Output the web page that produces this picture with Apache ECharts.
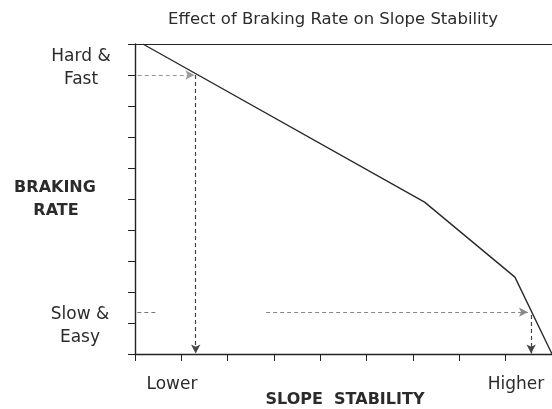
<!DOCTYPE html>
<html>
<head>
<meta charset="utf-8">
<script src="https://cdn.jsdelivr.net/npm/echarts@6/dist/echarts.min.js"></script>
<style>
html,body{margin:0;padding:0;background:#fff;}
#chart{width:552px;height:409px;}
</style>
</head>
<body>
<div id="chart"></div>
<script>
// braking rate (0 = slow & easy, 10 = hard & fast) vs slope stability (0 lower .. 9 higher)
var curve = [[0.17, 10], [6.25, 4.9], [8.2, 2.48], [9.0, 0]];
var hardAcross = [[0.06, 9.0], [1.28, 9.0]];
var hardDown = [[1.31, 9.0], [1.31, 0.02]];
var slowStub = [[0.05, 1.35], [0.47, 1.35]];
var slowAcross = [[2.83, 1.35], [8.48, 1.35]];
var slowDown = [[8.55, 1.26], [8.55, 0.02]];
var xLabels = ['Lower', 'Higher'];
var yLabels = [['Hard &', 'Fast'], ['BRAKING', 'RATE'], ['Slow &', 'Easy']];

var chart = echarts.init(document.getElementById('chart'));
var font = 'DejaVu Sans';

function arrowLine(pts, color, arrow) {
    return {
        type: 'line',
        data: [],
        silent: true,
        markLine: {
            silent: true,
            animation: false,
            symbol: ['none', arrow ? 'arrow' : 'none'],
            symbolSize: [7, 9],
            label: {show: false},
            lineStyle: {color: color, type: [4, 3], width: 1.2},
            data: [[{coord: pts[0]}, {coord: pts[1]}]]
        }
    };
}

function txt(s, x, y, size, bold) {
    return {
        type: 'text',
        style: {
            text: s, x: x, y: y,
            font: (bold ? 'bold ' : '') + size + 'px "' + font + '"',
            fill: '#2b2b2b', align: 'center', verticalAlign: 'middle'
        }
    };
}

var option = {
    animation: false,
    grid: {left: 135, right: -3, top: 44, bottom: 55},
    xAxis: [{
        type: 'value', min: 0, max: 9, interval: 1,
        axisLine: {lineStyle: {color: '#222', width: 1.4}},
        axisTick: {inside: false, length: 7, lineStyle: {color: '#222'}},
        axisLabel: {show: false},
        splitLine: {show: false}
    }, {
        type: 'value', min: 0, max: 9, position: 'top',
        axisLine: {show: true, lineStyle: {color: '#222', width: 1.2}},
        axisTick: {show: false}, axisLabel: {show: false}, splitLine: {show: false}
    }],
    yAxis: {
        type: 'value', min: 0, max: 10, interval: 1,
        axisLine: {show: true, lineStyle: {color: '#222', width: 1.4}},
        axisTick: {show: true, inside: false, length: 7, lineStyle: {color: '#222'}},
        axisLabel: {show: false},
        splitLine: {show: false}
    },
    series: [{
        type: 'line',
        data: curve,
        symbol: 'none',
        lineStyle: {color: '#2a2a2a', width: 1.4}
    },
        arrowLine(hardAcross, '#999', true),
        arrowLine(hardDown, '#444', true),
        arrowLine(slowStub, '#777', false),
        arrowLine(slowAcross, '#888', true),
        arrowLine(slowDown, '#444', true)
    ],
    graphic: [
        txt('Effect of Braking Rate on Slope Stability', 333, 20, 16.5, false),
        txt(yLabels[0][0], 81, 57, 17, false),
        txt(yLabels[0][1], 81, 80, 17, false),
        txt(yLabels[1][0], 55, 188, 16, true),
        txt(yLabels[1][1], 56, 211, 16, true),
        txt(yLabels[2][0], 80, 315, 17, false),
        txt(yLabels[2][1], 80, 338, 17, false),
        txt(xLabels[0], 172, 385, 17, false),
        txt(xLabels[1], 516, 385, 17, false),
        txt('SLOPE  STABILITY', 345, 400, 16, true)
    ]
};

chart.setOption(option);
</script>
</body>
</html>
